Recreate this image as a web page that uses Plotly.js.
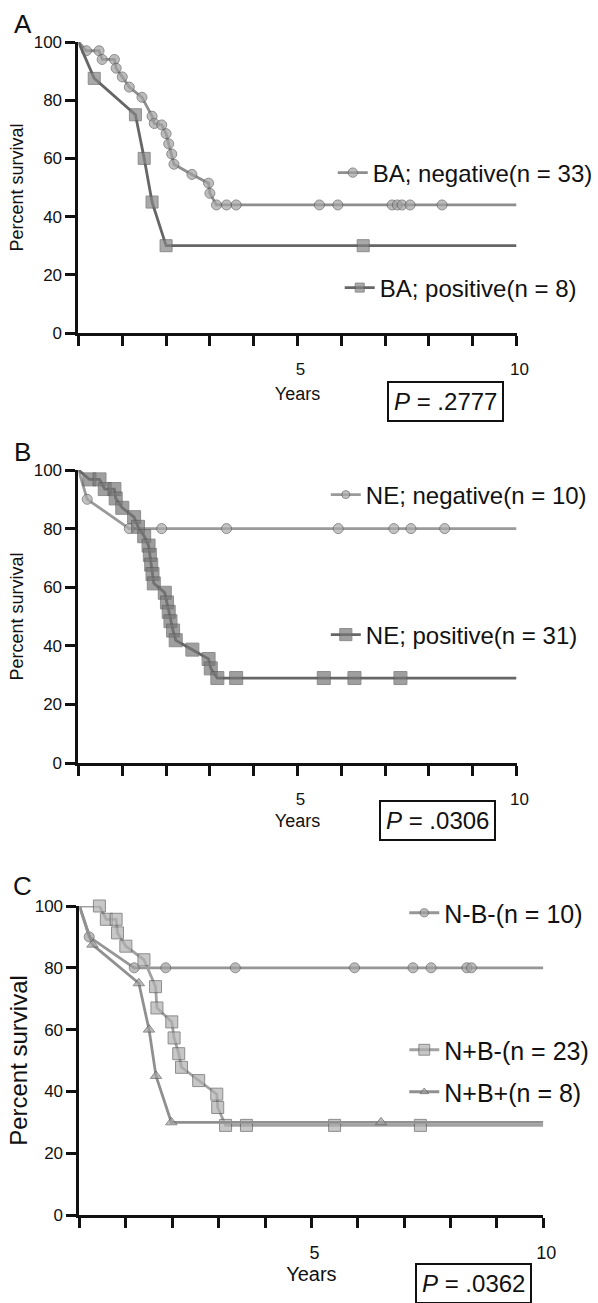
<!DOCTYPE html>
<html>
<head>
<meta charset="utf-8">
<script src="https://cdn.plot.ly/plotly-3.0.1.min.js"></script>
<style>html,body{margin:0;padding:0;background:#fff;}#chart{width:598px;height:1303px;}</style>
</head>
<body>
<div id="chart"></div>
<script>
// ---------------- DATA ----------------
// Panel A: BA
const baNegYears = [0, 0.18, 0.47, 0.54, 0.82, 0.86, 1.0, 1.16, 1.45, 1.68, 1.73, 1.9, 2.0, 2.06, 2.13, 2.18, 2.59, 2.97, 3.0, 3.15, 3.38, 3.6, 5.5, 5.92, 7.16, 7.28, 7.39, 7.57, 8.3, 10];
const baNegSurv  = [100, 97, 97, 94, 94, 91, 88, 84.5, 81, 74.5, 72, 71.5, 68.5, 65, 61.5, 58, 54.5, 51.5, 48, 44, 44, 44, 44, 44, 44, 44, 44, 44, 44, 44];
const baPosYears = [0, 0.36, 1.3, 1.5, 1.68, 2.0, 6.5, 10];
const baPosSurv  = [100, 87.5, 75, 60, 45, 30, 30, 30];

// Panel B: NE
const neNegYears = [0, 0.2, 1.16, 1.9, 3.38, 5.93, 7.2, 7.59, 8.36, 10];
const neNegSurv  = [100, 90, 80, 80, 80, 80, 80, 80, 80, 80];
const nePosYears = [0, 0.25, 0.48, 0.6, 0.82, 0.85, 1.0, 1.27, 1.36, 1.5, 1.6, 1.63, 1.66, 1.69, 1.72, 1.97, 2.02, 2.06, 2.1, 2.16, 2.22, 2.6, 2.97, 3.02, 3.17, 3.6, 5.6, 6.3, 7.35, 10];
const nePosSurv  = [100, 96.8, 96.8, 93.5, 93.5, 90.3, 87.1, 83.9, 80.6, 77.4, 74.2, 71.0, 67.7, 64.5, 61.3, 58.1, 54.8, 51.6, 48.4, 45.2, 41.9, 38.7, 35.5, 32.3, 29, 29, 29, 29, 29, 29];

// Panel C: combined
const nbNegYears  = [0, 0.21, 1.18, 1.86, 3.36, 5.93, 7.19, 7.58, 8.35, 8.45, 10];
const nbNegSurv   = [100, 90, 80, 80, 80, 80, 80, 80, 80, 80, 80];
const npbNegYears = [0, 0.43, 0.58, 0.79, 0.82, 1.0, 1.39, 1.64, 1.67, 1.99, 2.04, 2.14, 2.2, 2.57, 2.96, 2.98, 3.15, 3.6, 5.5, 7.35, 10];
const npbNegSurv  = [100, 100, 95.7, 95.7, 91.3, 87, 82.6, 73.9, 67, 62.5, 57.3, 52.2, 47.8, 43.5, 39.1, 34.8, 29, 29, 29, 29, 29];
const npbPosYears = [0, 0.28, 1.28, 1.5, 1.65, 1.98, 6.5, 10];
const npbPosSurv  = [100, 87.5, 75, 60, 45, 30, 30, 30];

const seriesNames = ['BA; negative(n = 33)', 'BA; positive(n = 8)', 'NE; negative(n = 10)', 'NE; positive(n = 31)', 'N-B-(n = 10)', 'N+B-(n = 23)', 'N+B+(n = 8)'];
const pValues = ['.2777', '.0306', '.0362'];
const panelLetters = ['A', 'B', 'C'];
const xTickValues = [0,1,2,3,4,5,6,7,8,9,10];
const xTickLabels = ['', '', '', '', '', '5', '', '', '', '', '10'];
const yTickValues = [0, 20, 40, 60, 80, 100];
const xTitle = 'Years';
const yTitle = 'Percent survival';

// ---------------- LAYOUT HELPERS ----------------
const W = 598, H = 1303;
const FONT = 'Liberation Sans, Arial, Helvetica, sans-serif';
const px = v => v / W;
const py = v => 1 - v / H;

function km(t, s, name, fill, lineColor, symbol, size, xa, ya, leg) {
  return {
    type: 'scatter', mode: 'lines+markers', x: t, y: s, name: name,
    xaxis: xa, yaxis: ya, legend: leg, cliponaxis: false,
    line: {color: lineColor, width: 2.8},
    marker: {symbol: symbol, color: fill, size: t.map((_, i) => (i === 0 || i === t.length - 1) ? 0 : size),
             line: {color: '#5e5e5e', width: 1}}
  };
}

const traces = [
  km(baNegYears, baNegSurv, seriesNames[0], '#a2a2a2', '#8e8e8e', 'circle', 10, 'x', 'y', 'legend'),
  km(baPosYears, baPosSurv, seriesNames[1], '#858585', '#666666', 'square', 12, 'x', 'y', 'legend2'),
  km(neNegYears, neNegSurv, seriesNames[2], '#ababab', '#9a9a9a', 'circle', 10, 'x2', 'y2', 'legend3'),
  km(nePosYears, nePosSurv, seriesNames[3], '#777777', '#666666', 'square', 13, 'x2', 'y2', 'legend4'),
  km(nbNegYears, nbNegSurv, seriesNames[4], '#a0a0a0', '#969696', 'circle', 10, 'x3', 'y3', 'legend5'),
  km(npbNegYears, npbNegSurv, seriesNames[5], '#b0b0b0', '#a2a2a2', 'square', 12, 'x3', 'y3', 'legend6'),
  km(npbPosYears, npbPosSurv, seriesNames[6], '#a0a0a0', '#909090', 'triangle-up', 10, 'x3', 'y3', 'legend7')
];

function xAxis(dom, anchor, tickSize, titleSize, standoff) {
  return {
    domain: dom, anchor: anchor, range: [0, 10], fixedrange: true,
    tickmode: 'array', tickvals: xTickValues, ticktext: xTickLabels,
    ticks: 'outside', ticklen: 10, tickwidth: 3, tickcolor: '#111',
    ticklabelstandoff: 9, ticklabelshift: 3,
    showline: true, linewidth: 3, linecolor: '#111', showgrid: false, zeroline: false,
    tickfont: {family: FONT, size: tickSize, color: '#111'},
    title: {text: xTitle, font: {family: FONT, size: titleSize, color: '#111'}, standoff: standoff},
    automargin: false
  };
}
function yAxis(dom, anchor, titleSize, standoff) {
  return {
    domain: dom, anchor: anchor, range: [0, 100], fixedrange: true,
    tickmode: 'array', tickvals: yTickValues,
    ticks: 'outside', ticklen: 10, tickwidth: 3, tickcolor: '#111',
    showline: true, linewidth: 3, linecolor: '#111', showgrid: false, zeroline: false,
    tickfont: {family: FONT, size: 17, color: '#111'},
    title: {text: yTitle, font: {family: FONT, size: titleSize, color: '#111'}, standoff: standoff},
    automargin: false
  };
}
function legendAt(textX, centerY, size) {
  return {x: px(textX - 40), y: py(centerY), xanchor: 'left', yanchor: 'middle',
          bgcolor: 'rgba(0,0,0,0)', borderwidth: 0, font: {family: FONT, size: size, color: '#111'},
          itemclick: false, itemdoubleclick: false};
}
function pBox(text, xYears, xa, centerY, size) {
  return {xref: xa, yref: 'paper', x: xYears, y: py(centerY), xanchor: 'center', yanchor: 'middle',
          text: '<i>P</i> = ' + text, showarrow: false, font: {family: FONT, size: size, color: '#111'},
          bordercolor: '#111', borderwidth: 2, borderpad: 5, bgcolor: '#fff'};
}
function letter(text, cx, cy) {
  return {xref: 'paper', yref: 'paper', x: px(cx), y: py(cy), xanchor: 'center', yanchor: 'middle',
          text: text, showarrow: false, font: {family: FONT, size: 26, color: '#111'}};
}

const layout = {
  width: W, height: H, margin: {l: 0, r: 0, t: 0, b: 0},
  paper_bgcolor: '#fff', plot_bgcolor: '#fff', showlegend: true,
  font: {family: FONT, color: '#111'},
  xaxis:  xAxis([px(79), px(520)], 'y', 17, 18, 9),
  yaxis:  yAxis([py(333), py(42)], 'x', 18, 6),
  xaxis2: xAxis([px(79), px(520)], 'y2', 17, 18, 6),
  yaxis2: yAxis([py(763), py(470)], 'x2', 18, 6),
  xaxis3: xAxis([px(80), px(547)], 'y3', 18, 20, 2),
  yaxis3: yAxis([py(1215), py(906)], 'x3', 24, 1),
  legend:  legendAt(375, 173, 24),
  legend2: legendAt(382, 288, 24),
  legend3: legendAt(368, 495, 24),
  legend4: legendAt(368, 635, 24),
  legend5: legendAt(447, 913, 25),
  legend6: legendAt(447, 1050, 25),
  legend7: legendAt(447, 1092, 25),
  annotations: [
    letter(panelLetters[0], 23, 24),
    letter(panelLetters[1], 23, 452),
    letter(panelLetters[2], 23, 886),
    pBox(pValues[0], 8.38, 'x', 402, 24),
    pBox(pValues[1], 8.2, 'x2', 820, 24),
    pBox(pValues[2], 8.5, 'x3', 1283, 24)
  ]
};

Plotly.newPlot('chart', traces, layout, {displayModeBar: false, staticPlot: true});
</script>
</body>
</html>
